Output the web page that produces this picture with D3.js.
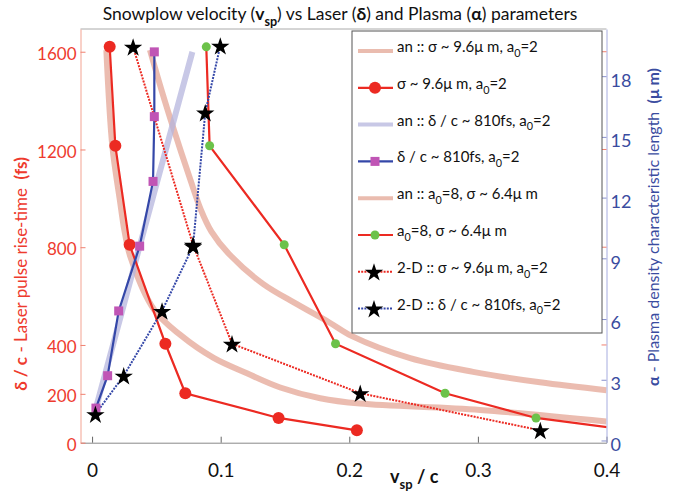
<!DOCTYPE html>
<html>
<head>
<meta charset="utf-8">
<script src="https://cdn.jsdelivr.net/npm/d3@7"></script>
<style>
  body { margin:0; background:#fff; }
  svg { display:block; }
  text { white-space:pre; }
</style>
</head>
<body>
<svg id="grafica"></svg>
<script>
// Snowplow velocity vs laser rise-time (delta) and plasma length (alpha)

const svg_w = 687;
const svg_h = 493;
const margin = {l:80.5, r:80.5, t:29, b:50.3};
const font = "Lato, 'Open Sans', sans-serif";

// --- datos ---
// eje izquierdo: delta/c (fs)
const delta_pts = [1620, 1215, 810, 405, 202.5, 101.25, 50.625];
const v_sigma96 = [0.0137, 0.0181, 0.0292, 0.057, 0.0725, 0.145, 0.2059];   // sigma ~ 9.6um, a0=2
const v_a8 = [0.0888, 0.0914, 0.1494, 0.1893, 0.2745, 0.3452, 0.42];        // a0=8, sigma ~ 6.4um

const delta_2d = [1620, 810, 405, 202.5, 50.625];
const v_2d_sigma = [0.0319, 0.0785, 0.1088, 0.2085, 0.3485];

const an_sigma_delta = [1607, 1211, 993, 870, 761, 543, 441, 347, 284, 226, 182, 160, 134, 87];
const an_sigma_v = [0.0111, 0.0158, 0.0216, 0.0251, 0.0298, 0.0484, 0.0686, 0.0945, 0.1204, 0.1463, 0.1774, 0.2085, 0.3017, 0.4];

const an_a8_delta = [1607, 1443, 1279, 1075, 952, 864, 772, 650, 567, 492, 436, 346, 290, 247, 215];
const an_a8_v = [0.045, 0.054, 0.0637, 0.0765, 0.0847, 0.0928, 0.1065, 0.1329, 0.1593, 0.1845, 0.2021, 0.2473, 0.2963, 0.3483, 0.4];

// eje derecho: alpha (um)
const alpha_pts = [19.2, 16, 12.8, 9.6, 6.4, 3.2, 1.6];
const v_delta810 = [0.0484, 0.0484, 0.0474, 0.037, 0.0207, 0.0121, 0.003];

const alpha_2d = [19.5, 16.2, 9.6, 6.4, 3.2, 1.3];
const v_2d_delta = [0.0997, 0.088, 0.0785, 0.0544, 0.0246, 0.0026];

const an_delta_alpha = [1.6, 9.6, 19.2];
const an_delta_v = [0.003, 0.037, 0.078];

// ticks
const x_ticks = [0, 0.1, 0.2, 0.3, 0.4];
const yl_ticks = [0, 200, 400, 800, 1200, 1600];
const yr_ticks = [0, 3, 6, 9, 12, 15, 18];

// colores
const c_red = "#ec2a22";
const c_axis_red = "#ee3b2e";
const c_blue = "#3447a8";
const c_axis_blue = "#3a4ca0";
const c_salmon = "#e2a08e";
const c_lav = "#b6b6de";
const c_mag = "#c055b5";
const c_green = "#6cc24a";

let svg = d3.select("#grafica")
  .attr("width", svg_w)
  .attr("height", svg_h)
  .attr("font-family", font);

const x0 = margin.l, x1 = svg_w - margin.r;
const y0 = svg_h - margin.b, y1 = margin.t;

let x_scale = d3.scaleLinear().domain([-0.009, 0.4]).range([x0, x1]);
let yl_scale = d3.scaleLinear().domain([0, 1693]).range([y0, y1]);
let yr_scale = d3.scaleLinear().domain([-0.11, 20.33]).range([y0, y1]);

const lineL = d3.line().x(d => x_scale(d[0])).y(d => yl_scale(d[1]));
const lineR = d3.line().x(d => x_scale(d[0])).y(d => yr_scale(d[1]));
const smoothL = d3.line().curve(d3.curveCatmullRom.alpha(0.5))
  .x(d => x_scale(d[0])).y(d => yl_scale(d[1]));

// texto con negritas y subíndices
function rich(sel, parts, size) {
  let wasSub = false;
  parts.forEach(p => {
    let ts = sel.append("tspan").text(p.t);
    if (p.b) ts.attr("font-weight", "bold");
    if (p.sub) {
      ts.attr("font-size", size * 0.72);
      if (!wasSub) ts.attr("dy", size * 0.32);
    } else if (wasSub) {
      ts.attr("dy", -size * 0.32);
    }
    wasSub = !!p.sub;
  });
}

svg.append("clipPath").attr("id", "clip")
  .append("rect").attr("x", x0).attr("y", y1).attr("width", x1 - x0).attr("height", y0 - y1);

let plot = svg.append("g").attr("clip-path", "url(#clip)");

// curvas analíticas
plot.append("path")
  .attr("d", smoothL(d3.zip(an_sigma_v, an_sigma_delta)))
  .attr("fill", "none").attr("stroke", c_salmon).attr("stroke-width", 6).attr("opacity", 0.7);
plot.append("path")
  .attr("d", smoothL(d3.zip(an_a8_v, an_a8_delta)))
  .attr("fill", "none").attr("stroke", c_salmon).attr("stroke-width", 6).attr("opacity", 0.7);
plot.append("path")
  .attr("d", lineR(d3.zip(an_delta_v, an_delta_alpha)))
  .attr("fill", "none").attr("stroke", c_lav).attr("stroke-width", 6).attr("opacity", 0.75);

// lineas de simulación
plot.append("path").attr("d", lineL(d3.zip(v_sigma96, delta_pts)))
  .attr("fill", "none").attr("stroke", c_red).attr("stroke-width", 2.2);
plot.append("path").attr("d", lineR(d3.zip(v_delta810, alpha_pts)))
  .attr("fill", "none").attr("stroke", c_blue).attr("stroke-width", 2.2);
plot.append("path").attr("d", lineL(d3.zip(v_a8, delta_pts)))
  .attr("fill", "none").attr("stroke", c_red).attr("stroke-width", 2.2);
plot.append("path").attr("d", lineL(d3.zip(v_2d_sigma, delta_2d)))
  .attr("fill", "none").attr("stroke", c_red).attr("stroke-width", 2).attr("stroke-dasharray", "2,1.2");
plot.append("path").attr("d", lineR(d3.zip(v_2d_delta, alpha_2d)))
  .attr("fill", "none").attr("stroke", c_blue).attr("stroke-width", 2).attr("stroke-dasharray", "2,1.2");

// marcadores
plot.append("g").selectAll("circle")
  .data(d3.zip(v_sigma96, delta_pts)).enter().append("circle")
  .attr("cx", d => x_scale(d[0])).attr("cy", d => yl_scale(d[1]))
  .attr("r", 6).attr("fill", c_red);
plot.append("g").selectAll("rect")
  .data(d3.zip(v_delta810, alpha_pts)).enter().append("rect")
  .attr("x", d => x_scale(d[0]) - 4.5).attr("y", d => yr_scale(d[1]) - 4.5)
  .attr("width", 9).attr("height", 9).attr("fill", c_mag);
plot.append("g").selectAll("circle")
  .data(d3.zip(v_a8, delta_pts)).enter().append("circle")
  .attr("cx", d => x_scale(d[0])).attr("cy", d => yl_scale(d[1]))
  .attr("r", 4.5).attr("fill", c_green);

const star = d3.symbol().type(d3.symbolStar).size(105);
plot.append("g").selectAll("path")
  .data(d3.zip(v_2d_sigma, delta_2d)).enter().append("path")
  .attr("d", star).attr("transform", d => `translate(${x_scale(d[0])},${yl_scale(d[1]) + 1})`)
  .attr("fill", "black");
plot.append("g").selectAll("path")
  .data(d3.zip(v_2d_delta, alpha_2d)).enter().append("path")
  .attr("d", star).attr("transform", d => `translate(${x_scale(d[0])},${yr_scale(d[1]) + 1})`)
  .attr("fill", "black");

// ejes
svg.append("line").attr("x1", x0).attr("x2", x1).attr("y1", y1).attr("y2", y1)
  .attr("stroke", "#aaa");

let ax = svg.append("g")
  .attr("transform", `translate(0,${y0})`)
  .call(d3.axisBottom(x_scale).tickValues(x_ticks).tickSizeInner(-6).tickSizeOuter(0)
    .tickPadding(21).tickFormat(d => d === 0 ? "0" : d3.format(".1f")(d)));
ax.attr("font-size", 19).attr("font-family", font);
ax.select(".domain").attr("stroke", "#888");
ax.selectAll("line").attr("stroke", "#666");
ax.selectAll("text").attr("fill", "#111");

let ayl = svg.append("g")
  .attr("transform", `translate(${x0},0)`)
  .call(d3.axisLeft(yl_scale).tickValues(yl_ticks).tickSizeInner(-5).tickSizeOuter(0)
    .tickPadding(4).tickFormat(d3.format("d")));
ayl.attr("font-size", 17).attr("font-family", font);
ayl.select(".domain").attr("stroke", "#f3a392");
ayl.selectAll("line").attr("stroke", "#f08070");
ayl.selectAll("text").attr("fill", c_axis_red).attr("dy", "0.45em");

let ayr = svg.append("g")
  .attr("transform", `translate(${x1},0)`)
  .call(d3.axisRight(yr_scale).tickValues(yr_ticks).tickSizeInner(-5).tickSizeOuter(0).tickPadding(4));
ayr.attr("font-size", 18).attr("font-family", font);
ayr.select(".domain").attr("stroke", "#a6acdf");
ayr.selectAll("line").attr("stroke", "#8890cc");
ayr.selectAll("text").attr("fill", c_axis_blue).attr("dy", "0.55em");

// ticks rojos reflejados a la derecha
svg.append("g").selectAll("line")
  .data(yl_ticks.filter(d => d >= 400)).enter().append("line")
  .attr("x1", x1).attr("x2", x1 - 5)
  .attr("y1", d => yl_scale(d)).attr("y2", d => yl_scale(d))
  .attr("stroke", "#f08070");

// titulo
rich(svg.append("text").attr("x", 340).attr("y", 20).attr("text-anchor", "middle")
  .attr("font-size", 17.5).attr("fill", "#111"),
  [{t:"Snowplow velocity ("}, {t:"v", b:true}, {t:"sp", b:true, sub:true},
   {t:") vs Laser ("}, {t:"δ", b:true}, {t:") and Plasma ("}, {t:"α", b:true}, {t:") parameters"}], 17.5);

// etiquetas de ejes
rich(svg.append("text").attr("x", 390).attr("y", 483).attr("font-size", 18).attr("fill", "#111"),
  [{t:"v", b:true}, {t:"sp", b:true, sub:true}, {t:" / c", b:true}], 18);

rich(svg.append("text").attr("transform", "translate(27,274) rotate(-90)")
  .attr("text-anchor", "middle").attr("font-size", 17).attr("fill", c_axis_red),
  [{t:"δ / c", b:true}, {t:" - Laser pulse rise-time  "}, {t:"(fs)", b:true}], 17);

rich(svg.append("text").attr("transform", "translate(659,227) rotate(-90)")
  .attr("text-anchor", "middle").attr("font-size", 16).attr("fill", c_axis_blue),
  [{t:"α", b:true}, {t:" - Plasma density characteristic length  "}, {t:"(μ m)", b:true}], 16);

// leyenda
const leg_labels = [
  [{t:"an :: σ ~ 9.6μ m, a"}, {t:"0", sub:true}, {t:"=2"}],
  [{t:"σ ~ 9.6μ m, a"}, {t:"0", sub:true}, {t:"=2"}],
  [{t:"an :: δ / c ~ 810fs, a"}, {t:"0", sub:true}, {t:"=2"}],
  [{t:"δ / c ~ 810fs, a"}, {t:"0", sub:true}, {t:"=2"}],
  [{t:"an :: a"}, {t:"0", sub:true}, {t:"=8, σ ~ 6.4μ m"}],
  [{t:"a"}, {t:"0", sub:true}, {t:"=8, σ ~ 6.4μ m"}],
  [{t:"2-D :: σ ~ 9.6μ m, a"}, {t:"0", sub:true}, {t:"=2"}],
  [{t:"2-D :: δ / c ~ 810fs, a"}, {t:"0", sub:true}, {t:"=2"}]
];
const leg_style = [
  {stroke:c_salmon, w:4, op:0.7},
  {stroke:c_red, w:2.2, mark:"circle", fill:c_red, r:6},
  {stroke:c_lav, w:4, op:0.75},
  {stroke:c_blue, w:2.2, mark:"square", fill:c_mag},
  {stroke:c_salmon, w:4, op:0.7},
  {stroke:c_red, w:2.2, mark:"circle", fill:c_green, r:4.5},
  {stroke:c_red, w:2, dash:"2,1.2", mark:"star"},
  {stroke:c_blue, w:2, dash:"2,1.2", mark:"star"}
];

let leg = svg.append("g");
leg.append("rect").attr("x", 352).attr("y", 31).attr("width", 250).attr("height", 302)
  .attr("fill", "white").attr("stroke", "#555");

let rows = leg.selectAll("g.row").data(leg_labels).enter().append("g")
  .attr("transform", (d, i) => `translate(0,${51 + i * 36.8})`);

rows.each(function(d, i) {
  let g = d3.select(this);
  let s = leg_style[i];
  g.append("line").attr("x1", 358).attr("x2", 393).attr("y1", 0).attr("y2", 0)
    .attr("stroke", s.stroke).attr("stroke-width", s.w)
    .attr("opacity", s.op || 1).attr("stroke-dasharray", s.dash || null);
  if (s.mark === "circle") g.append("circle").attr("cx", 375).attr("cy", 0).attr("r", s.r).attr("fill", s.fill);
  if (s.mark === "square") g.append("rect").attr("x", 370.5).attr("y", -4.5).attr("width", 9).attr("height", 9).attr("fill", s.fill);
  if (s.mark === "star") g.append("path").attr("d", star).attr("transform", "translate(374,1)").attr("fill", "black");
  rich(g.append("text").attr("x", 397).attr("y", 1).attr("font-size", 15).attr("fill", "#111"), d, 15);
});
</script>
</body>
</html>
